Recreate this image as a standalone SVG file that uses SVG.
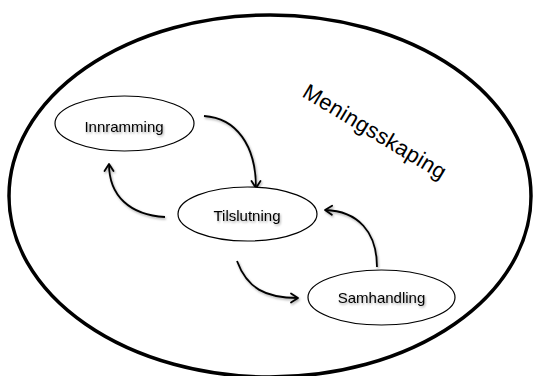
<svg xmlns="http://www.w3.org/2000/svg" width="537" height="376" viewBox="0 0 537 376">
  <style>
    .frame { fill: none; stroke: #000; stroke-width: 3.5; }
    .node ellipse { fill: #fff; stroke: #000; stroke-width: 1.2; }
    .label { font-family: "Liberation Sans", Arial, sans-serif; font-size: 15px; fill: #000; text-anchor: middle; filter: url(#soft); }
    .title { font-family: "Liberation Sans", Arial, sans-serif; font-size: 22px; fill: #000; }
    .edge { fill: none; stroke: #000; stroke-width: 1.8; marker-end: url(#arrow); filter: url(#soft); }
  </style>
  <defs>
    <filter id="soft" x="-20%" y="-20%" width="140%" height="160%">
      <feDropShadow dx="1" dy="1.5" stdDeviation="1" flood-color="#000" flood-opacity="0.35"/>
    </filter>
    <marker id="arrow" viewBox="-9 -6 11 12" refX="0" refY="0" markerWidth="11" markerHeight="12" markerUnits="userSpaceOnUse" orient="auto">
      <path d="M-7,-4.5 L0,0 L-7,4.5" fill="none" stroke="#000" stroke-width="1.8" stroke-linecap="round" stroke-linejoin="round"/>
    </marker>
  </defs>

  <rect width="537" height="376" fill="#fff"/>

  <!-- outer boundary -->
  <g id="meningsskaping">
    <ellipse class="frame" cx="270" cy="196" rx="261" ry="181"/>
    <text class="title" transform="translate(301,96) rotate(31)" textLength="163">Meningsskaping</text>
  </g>

  <!-- cycle arrows -->
  <g id="connectors">
    <path class="edge" d="M204,116 C236,118 256,145 256,188"/>
    <path class="edge" d="M165,217 C130,215 109,196 109,164"/>
    <path class="edge" d="M237,261 C247,288 265,298 298,298"/>
    <path class="edge" d="M377,267 C377,232 358,211 325,210"/>
  </g>

  <g id="innramming" class="node">
    <ellipse cx="124.5" cy="123.5" rx="69.5" ry="27.5"/>
    <text class="label" x="124" y="132">Innramming</text>
  </g>

  <g id="tilslutning" class="node">
    <ellipse cx="247.5" cy="214" rx="69.5" ry="27"/>
    <text class="label" x="247" y="220.5">Tilslutning</text>
  </g>

  <g id="samhandling" class="node">
    <ellipse cx="381.5" cy="297.5" rx="73.5" ry="27.5"/>
    <text class="label" x="381.5" y="303">Samhandling</text>
  </g>
</svg>
